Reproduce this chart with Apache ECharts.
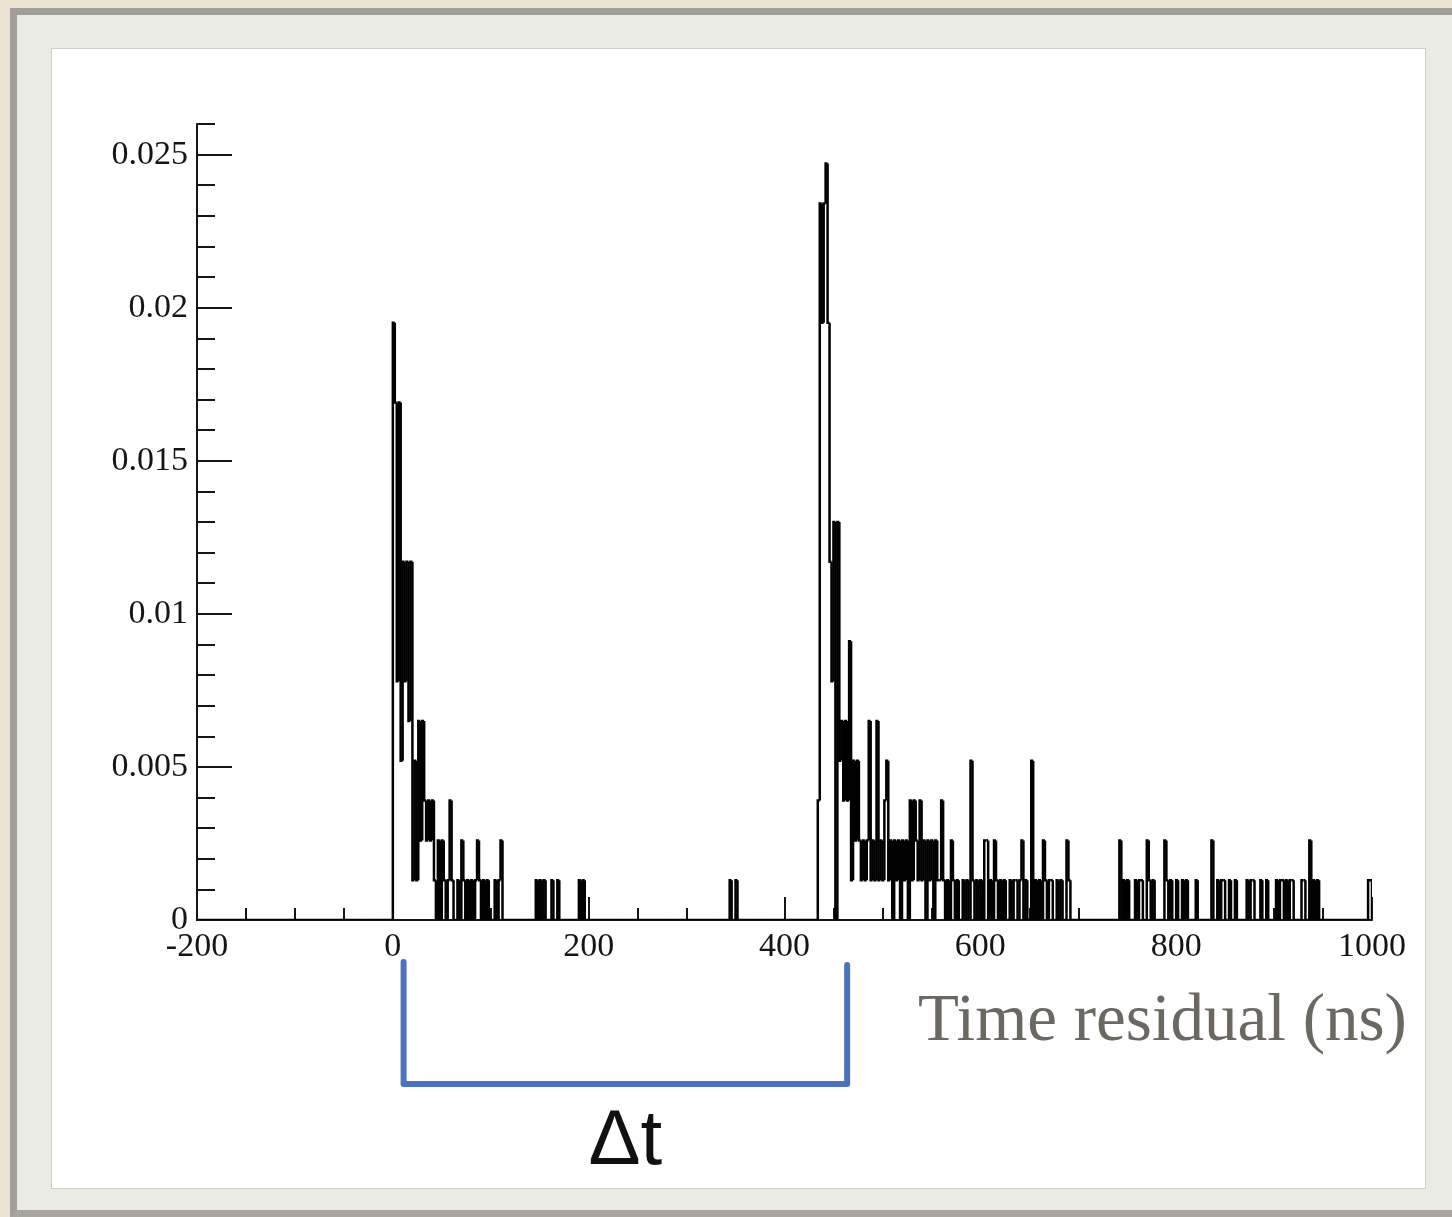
<!DOCTYPE html>
<html>
<head>
<meta charset="utf-8">
<title>Time residual histogram</title>
<script src="https://cdn.jsdelivr.net/npm/echarts@6/dist/echarts.min.js"></script>
<style>
  html, body { margin: 0; padding: 0; background: #ebe4d2; }
  #page { position: relative; width: 1452px; height: 1217px; overflow: hidden; }
  .frame {
    position: absolute; left: 10px; top: 8px; width: 1442px; height: 1209px;
    box-sizing: border-box; background: #ebebe6;
    border-left: 7px solid #a19f97; border-top: 7px solid #a19f97; border-bottom: 7px solid #a8a69e;
  }
  .panel {
    position: absolute; left: 51px; top: 48px; width: 1375px; height: 1141px;
    box-sizing: border-box; background: #ffffff; border: 1px solid #cfcec8;
  }
  #chart { position: absolute; left: 0; top: 0; width: 1452px; height: 1217px; }
</style>
</head>
<body>
<div id="page">
  <div class="frame"></div>
  <div class="panel"></div>
  <div id="chart"></div>
</div>
<script>
// Hit-time residual histogram: 2 ns bins, hit counts normalised by the total number of hits.
const BIN_NS = 2;
const TOTAL_HITS = 769;

const xTicks = [-200, 0, 200, 400, 600, 800, 1000];
const yTicks = [0, 0.005, 0.01, 0.015, 0.02, 0.025];
const yTickLabels = ['0', '0.005', '0.01', '0.015', '0.02', '0.025'];
const yTop = 0.026;

// [bin start (ns), hits]; bins that are not listed are empty
const promptBins = [
  [0, 15], [2, 13], [4, 6], [6, 13], [8, 4], [10, 9], [12, 6], [14, 9], [16, 5], [18, 9],
  [20, 1], [22, 4], [24, 1], [26, 5], [28, 2], [30, 5], [32, 3], [34, 2], [36, 3], [38, 2],
  [40, 3], [42, 1], [46, 2], [50, 2], [52, 1], [56, 1], [58, 3], [60, 1], [66, 1], [70, 2],
  [72, 1], [76, 1], [80, 1], [84, 1], [86, 2], [88, 1], [92, 1], [96, 1], [104, 1], [108, 1],
  [110, 2]
];
const gapBins = [
  [146, 1], [150, 1], [154, 1], [162, 1], [168, 1], [190, 1], [194, 1], [344, 1], [350, 1]
];
const delayedBins = [
  [434, 3], [436, 18], [438, 15], [440, 18], [442, 19], [444, 15], [446, 9], [448, 6], [450, 10],
  [454, 10], [456, 4], [458, 5], [460, 3], [462, 5], [464, 3], [466, 7], [468, 1], [470, 4],
  [472, 2], [474, 4], [476, 2], [478, 1], [480, 2], [482, 1], [484, 2], [486, 5], [488, 1],
  [490, 2], [492, 1], [494, 5], [496, 1], [498, 2], [500, 1], [502, 3], [504, 4], [506, 1],
  [508, 2], [512, 2], [514, 1], [516, 2], [520, 2], [522, 1], [524, 2], [528, 3], [530, 1],
  [532, 3], [534, 2], [536, 1], [538, 3], [540, 1], [542, 2], [546, 2], [548, 1], [550, 2],
  [554, 2], [556, 1], [558, 1], [560, 3], [562, 1], [566, 1], [570, 2], [572, 1], [576, 1],
  [582, 1], [586, 1], [590, 4], [592, 1], [596, 1], [600, 1], [604, 2], [606, 2], [610, 1],
  [614, 2], [616, 1], [620, 1], [624, 1], [630, 1], [634, 1], [636, 1], [640, 1], [642, 2],
  [646, 1], [652, 4], [656, 1], [660, 1], [664, 2], [666, 1], [670, 1], [672, 1], [678, 1],
  [682, 1], [688, 2], [690, 1]
];
const tailBins = [
  [742, 2], [746, 1], [750, 1], [758, 1], [762, 1], [764, 1], [770, 2], [772, 1], [776, 1],
  [788, 2], [790, 1], [794, 1], [800, 1], [806, 1], [810, 1], [820, 1], [836, 2], [842, 1],
  [846, 1], [848, 1], [854, 1], [860, 1], [872, 1], [876, 1], [878, 1], [886, 1], [892, 1],
  [902, 1], [906, 1], [908, 1], [912, 1], [916, 1], [918, 1], [928, 1], [930, 1], [936, 2],
  [940, 1], [944, 1], [996, 1], [998, 1]
];

// time window marked below the axis
const deltaWindow = [11, 464];
const axisTitle = 'Time residual (ns)';
const deltaLabel = 'Δt';

// one entry per bin over the whole axis range: [bin start, probability]
const hits = new Map();
[promptBins, gapBins, delayedBins, tailBins].forEach(list =>
  list.forEach(([t, n]) => hits.set(t, n)));
const xMin = xTicks[0];
const xMax = xTicks[xTicks.length - 1];
const binSeries = [];
for (let t = xMin; t < xMax; t += BIN_NS) {
  binSeries.push([t, (hits.get(t) || 0) / TOTAL_HITS]);
}

const serif = '"Liberation Serif", "Times New Roman", serif';
const ink = '#151515';

// each bin draws the riser from the previous bin's level and its own top edge
function renderBin(params, api) {
  const i = params.dataIndex;
  const t = api.value(0);
  const p = api.value(1);
  const prev = i > 0 ? binSeries[i - 1][1] : 0;
  const pts = [api.coord([t, prev]), api.coord([t, p]), api.coord([t + BIN_NS, p])];
  if (i === binSeries.length - 1) pts.push(api.coord([t + BIN_NS, 0]));
  return {
    type: 'polyline',
    shape: { points: pts },
    style: { stroke: '#000000', lineWidth: 2.5, fill: null, lineJoin: 'miter' }
  };
}

const chart = echarts.init(document.getElementById('chart'), null, { renderer: 'canvas' });
chart.setOption({
  backgroundColor: 'transparent',
  animation: false,
  grid: { left: 197, right: 80, top: 124, bottom: 297, containLabel: false },
  xAxis: {
    type: 'value', min: xMin, max: xMax, interval: 200,
    axisLine: { show: true, onZero: false, lineStyle: { color: ink, width: 2 } },
    axisTick: { show: true, inside: true, length: 23, lineStyle: { color: ink, width: 2 } },
    minorTick: { show: true, splitNumber: 4, length: 12, lineStyle: { color: ink, width: 2 } },
    axisLabel: { show: true, margin: 10, fontFamily: serif, fontSize: 34, color: ink,
                 formatter: v => String(v) },
    splitLine: { show: false },
    minorSplitLine: { show: false }
  },
  yAxis: [
    {
      type: 'value', min: 0, max: yTop, interval: 0.001, position: 'left',
      axisLine: { show: true, onZero: false, lineStyle: { color: ink, width: 2 } },
      axisTick: { show: true, inside: true, length: 18, lineStyle: { color: ink, width: 2 } },
      axisLabel: {
        show: true, margin: 9, fontFamily: serif, fontSize: 34, color: ink,
        customValues: yTicks,
        formatter: v => {
          const i = yTicks.findIndex(t => Math.abs(t - v) < 1e-9);
          return i >= 0 ? yTickLabels[i] : '';
        }
      },
      splitLine: { show: false }
    },
    {
      type: 'value', min: 0, max: yTop, interval: 0.001, position: 'left', offset: 0,
      axisLine: { show: false, onZero: false },
      axisTick: { show: true, inside: true, length: 35, customValues: yTicks,
                  lineStyle: { color: ink, width: 2 } },
      axisLabel: { show: false },
      splitLine: { show: false }
    }
  ],
  series: [{
    type: 'custom',
    coordinateSystem: 'cartesian2d',
    yAxisIndex: 0,
    data: binSeries,
    encode: { x: 0, y: 1 },
    silent: true,
    clip: true,
    renderItem: renderBin
  }]
});

// annotations: axis title and the Δt bracket spanning the two peaks
const xL = chart.convertToPixel({ xAxisIndex: 0 }, deltaWindow[0]);
const xR = chart.convertToPixel({ xAxisIndex: 0 }, deltaWindow[1]);
chart.setOption({
  graphic: [
    {
      type: 'text', x: 918, y: 1022, z: 10,
      style: {
        text: axisTitle, fill: '#6b6761',
        font: '67px "Liberation Serif", "Times New Roman", serif',
        textAlign: 'left', textVerticalAlign: 'middle'
      }
    },
    {
      type: 'polyline', z: 10,
      shape: { points: [[xL, 962], [xL, 1084], [xR, 1084], [xR, 965]] },
      style: { stroke: '#4a72bd', lineWidth: 6, fill: null, lineJoin: 'round', lineCap: 'round' }
    },
    {
      type: 'text', x: (xL + xR) / 2, y: 1142, z: 10,
      style: {
        text: deltaLabel, fill: '#111111',
        font: '78px "Liberation Sans", Arial, sans-serif',
        textAlign: 'center', textVerticalAlign: 'middle'
      }
    }
  ]
});
</script>
</body>
</html>
